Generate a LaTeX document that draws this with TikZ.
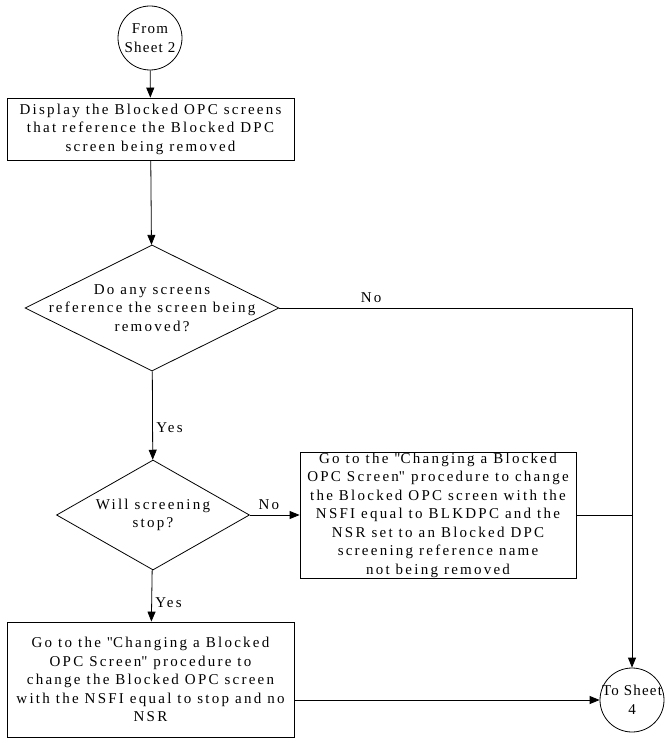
\documentclass[tikz,border=0pt]{standalone}
\usepackage{fontspec}
\setmainfont{Liberation Serif}[LetterSpace=15]
\usetikzlibrary{arrows.meta,shapes.geometric}

\begin{document}
\begin{tikzpicture}[
  x=1pt, y=-1pt,
  every node/.style={font=\fontsize{15}{18.5}\selectfont, align=center},
  box/.style={draw, thick, inner sep=0pt},
  decision/.style={draw, thick, diamond, inner sep=0pt},
  sheet/.style={draw, thick, circle, minimum size=64pt, inner sep=0pt},
  sheettext/.style={font=\fontsize{15}{18.5}\selectfont\addfontfeature{LetterSpace=8}},
  arrow/.style={-{Triangle[length=10pt,width=8pt]}, thick}
]
  \useasboundingbox (0,0) rectangle (670,743);
  % Nodes
  \node (from) [sheet] at (150,38) {};
  \node [sheettext] at (from.center) {From\\Sheet 2};
  \node (display) [box, minimum width=287pt, minimum height=62pt] at (150.5,129)
    {Display the Blocked OPC screens\\that reference the Blocked DPC\\screen being removed};
  \node (anyref) [decision, minimum width=254pt, minimum height=126pt] at (152,308) {};
  \node at (anyref.center) {\fontsize{15}{22}\selectfont Do any screens\\reference the screen being\\removed?};
  \node (stop) [decision, minimum width=193pt, minimum height=110pt] at (153,515) {};
  \node at (stop.center) {\fontsize{15}{20}\selectfont Will screening\\stop?};
  \node (change_nsr) [box, minimum width=276pt, minimum height=126pt] at (438,515)
    {\fontsize{15}{17}\selectfont Go to the \textquotedbl Changing a Blocked\\OPC Screen\textquotedbl\ procedure to change\\the Blocked OPC screen with the\\NSFI equal to BLKDPC and the\\NSR set to an Blocked DPC\\screening reference name\\not being removed};
  \node (change_stop) [box, minimum width=287pt, minimum height=115pt] at (150.5,679.5)
    {\fontsize{15}{19.5}\selectfont Go to the \textquotedbl Changing a Blocked\\OPC Screen\textquotedbl\ procedure to\\change the Blocked OPC screen\\with the NSFI equal to stop and no\\NSR};
  \node (to) [sheet] at (632,700) {};
  \node [sheettext] at (to.center) {To Sheet\\4};

  % Paths
  \draw [arrow] (from) -- (display);
  \draw [arrow] (display) -- (anyref);
  \draw [arrow] (anyref.east) -- node[above=2pt, pos=0.26] {No} (anyref.east -| to) -- (to);
  \draw [arrow] (anyref) -- node[right, pos=0.64] {Yes} (stop);
  \draw [arrow] (stop) -- node[above=2pt, pos=0.38] {No} (change_nsr);
  \draw [thick] (change_nsr.east) -- (change_nsr.east -| to);
  \draw [arrow] (stop) -- node[right, pos=0.63] {Yes} (change_stop);
  \draw [arrow] (change_stop.east |- to) -- (to);
\end{tikzpicture}
\end{document}
